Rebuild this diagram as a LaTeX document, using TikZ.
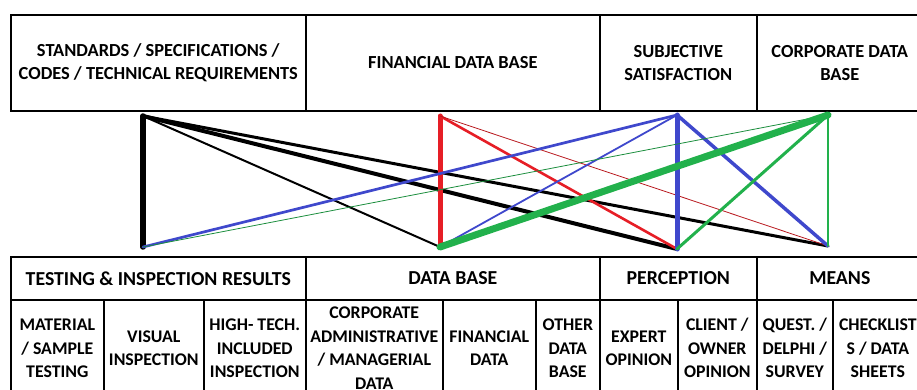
\documentclass[tikz,border=0pt]{standalone}
\usepackage{fontspec}
\setmainfont{Carlito}
\definecolor{pred}{RGB}{230,30,38}
\definecolor{pblue}{RGB}{63,72,204}
\definecolor{pgreen}{RGB}{34,177,76}
\begin{document}
\begin{tikzpicture}[x=1pt,y=-1pt,
  cell/.style={draw, line width=1.6pt, rectangle, inner sep=0pt, anchor=north west,
    align=center, font=\bfseries\fontsize{17.8}{23.5}\selectfont},
  top/.style={cell, font=\bfseries\fontsize{18.4}{23}\selectfont},
  head/.style={cell, font=\bfseries\fontsize{19.8}{23}\selectfont},
  link/.style={line cap=round, line join=round},
]
\useasboundingbox (0,0) rectangle (917,390);

% upper row of categories
\node[top, minimum width=295pt, minimum height=96pt] (std) at (10,14)
  {STANDARDS / SPECIFICATIONS /\\CODES / TECHNICAL REQUIREMENTS};
\node[top, minimum width=294pt, minimum height=96pt] (fin) at (305,14)
  {FINANCIAL DATA BASE};
\node[top, minimum width=157pt, minimum height=96pt] (subj) at (599,14)
  {SUBJECTIVE\\SATISFACTION};
\node[top, minimum width=166pt, minimum height=96pt] (corp) at (756,14)
  {CORPORATE DATA\\BASE};

% lower row: group headers
\node[head, minimum width=295pt, minimum height=43pt] (tir) at (10,256)
  {TESTING \& INSPECTION RESULTS};
\node[head, minimum width=294pt, minimum height=43pt] (db) at (305,256)
  {DATA BASE};
\node[head, minimum width=157pt, minimum height=43pt] (perc) at (599,256)
  {PERCEPTION};
\node[head, minimum width=166pt, minimum height=43pt] (means) at (756,256)
  {MEANS};

% lower row: sub-items
\node[cell, minimum width=93pt, minimum height=97pt] (mat) at (10,299)
  {MATERIAL\\/ SAMPLE\\TESTING};
\node[cell, minimum width=100pt, minimum height=97pt] (vis) at (103,299)
  {VISUAL\\INSPECTION};
\node[cell, minimum width=102pt, minimum height=97pt] (hti) at (203,299)
  {HIGH- TECH.\\INCLUDED\\INSPECTION};
\node[cell, minimum width=137pt, minimum height=97pt] (adm) at (305,299)
  {CORPORATE\\ADMINISTRATIVE\\/ MANAGERIAL\\DATA};
\node[cell, minimum width=93pt, minimum height=97pt] (fdat) at (442,299)
  {FINANCIAL\\DATA};
\node[cell, minimum width=64pt, minimum height=97pt] (odb) at (535,299)
  {OTHER\\DATA\\BASE};
\node[cell, minimum width=78pt, minimum height=97pt] (exp) at (599,299)
  {EXPERT\\OPINION};
\node[cell, minimum width=79pt, minimum height=97pt] (cli) at (677,299)
  {CLIENT /\\OWNER\\OPINION};
\node[cell, minimum width=76pt, minimum height=97pt] (que) at (756,299)
  {QUEST. /\\DELPHI /\\SURVEY};
\node[cell, minimum width=90pt, minimum height=97pt] (chk) at (832,299)
  {CHECKLIST\\S / DATA\\SHEETS};

% end points of the links
\coordinate (a1) at (143,116);  \coordinate (a2) at (143,247);
\coordinate (r1) at (440,116);  \coordinate (r2) at (440,247);
\coordinate (b1) at (677,115);  \coordinate (b2) at (677,249);
\coordinate (g1) at (828,115);  \coordinate (g2) at (828,246);

% black links
\draw[link, black, line width=5.5pt] (a1) -- (a2);
\draw[link, black, line width=2pt]   (a1) -- (r2);
\draw[link, black, line width=4pt]   (a1) -- (b2);
\draw[link, black, line width=3pt]   (a1) -- (g2);

% red links
\draw[link, pred, line width=5pt]   (r1) -- (r2);
\draw[link, pred, line width=2.6pt] (r1) -- (b2);
\draw[link, pred!80!black, line width=0.8pt] (r1) -- (g2);

% blue links
\draw[link, pblue, line width=2.7pt] (b1) -- (a2);
\draw[link, pblue, line width=1.8pt] (b1) -- (r2);
\draw[link, pblue, line width=5pt]   (b1) -- (b2);
\draw[link, pblue, line width=3.5pt] (b1) -- (g2);

% green links
\draw[link, pgreen!80!black, line width=0.8pt] (g1) -- (a2);
\draw[link, pgreen, line width=7pt]   (g1) -- (r2);
\draw[link, pgreen, line width=3pt]   (g1) -- (b2);
\draw[link, pgreen, line width=1.8pt] (g1) -- (g2);
\end{tikzpicture}
\end{document}
